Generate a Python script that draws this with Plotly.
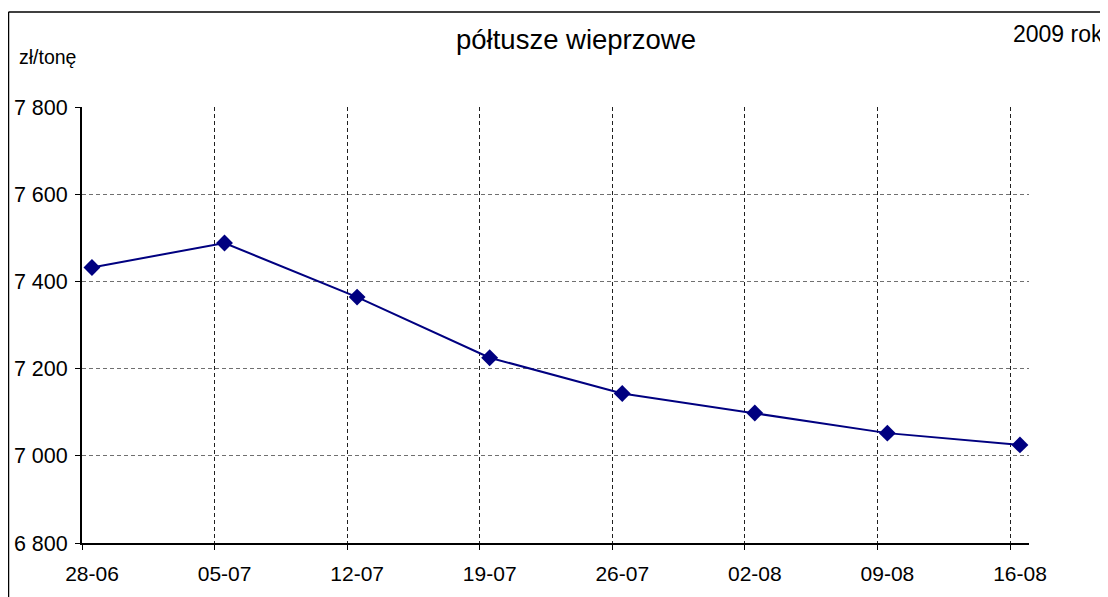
import plotly.graph_objects as go

# ---- data ----
dates = ["28-06", "05-07", "12-07", "19-07", "26-07", "02-08", "09-08", "16-08"]
prices = [7432, 7488, 7364, 7225, 7143, 7098, 7052, 7025]
y_ticks = [6800, 7000, 7200, 7400, 7600, 7800]
title_text = "półtusze wieprzowe"
unit_text = "zł/tonę"
year_text = "2009 rok"

# page has an 8px body margin; work in screen pixels and shift into figure coords
OFF = 8
W, H = 1108 - OFF, 597 - OFF
L, R, T, B = 82 - OFF, 1029 - OFF, 107 - OFF, 543 - OFF
point_offset = 0.075  # points sit slightly right of each week's gridline
x_pos = [i + point_offset for i in range(len(dates))]
x_max = (R - L) / ((1010 - 82) / 7)

font = "Liberation Sans, Arial, sans-serif"

fig = go.Figure()
fig.add_trace(go.Scatter(
    x=x_pos, y=prices, mode="lines+markers",
    line=dict(color="#000080", width=2),
    marker=dict(symbol="diamond", size=13, color="#000080"),
    showlegend=False, hoverinfo="skip",
))

fig.update_layout(
    width=W, height=H,
    margin=dict(l=L, r=W - R, t=T, b=H - B, autoexpand=False),
    paper_bgcolor="white", plot_bgcolor="white",
    separators=", ",
    font=dict(family=font, color="black"),
    xaxis=dict(
        range=[0, x_max], tickvals=list(range(len(dates))), ticktext=dates,
        ticklabelshift=10, showgrid=True, gridcolor="#202020", griddash="4px,3px",
        gridwidth=1, showline=True, linecolor="black", linewidth=2,
        ticks="outside", ticklen=5, tickcolor="black", tickwidth=1,
        tickfont=dict(size=21, family=font, color="black"), zeroline=False,
        ticklabelstandoff=6, automargin=False,
    ),
    yaxis=dict(
        range=[6800, 7800], tickvals=y_ticks, tickformat=",d",
        showgrid=True, gridcolor="#707070", griddash="4px,3px", gridwidth=1,
        showline=True, linecolor="black", linewidth=2,
        ticks="outside", ticklen=5, tickcolor="black", tickwidth=1,
        tickfont=dict(size=21.5, family=font, color="black"), zeroline=False,
        ticklabelstandoff=3, automargin=False,
    ),
)

def px_x(p):
    return (p - OFF - L) / (R - L)

def px_y(p):
    return (B - (p - OFF)) / (B - T)

fig.add_annotation(text=title_text, xref="paper", yref="paper",
                   x=px_x(576), y=px_y(39), xanchor="center", yanchor="middle",
                   showarrow=False, font=dict(size=27.5, family=font, color="black"))
fig.add_annotation(text=unit_text, xref="paper", yref="paper",
                   x=px_x(17), y=px_y(57), xanchor="left", yanchor="middle",
                   showarrow=False, font=dict(size=19.5, family=font, color="black"))
fig.add_annotation(text=year_text, xref="paper", yref="paper",
                   x=px_x(1105), y=px_y(34), xanchor="right", yanchor="middle",
                   showarrow=False, font=dict(size=23, family=font, color="black"))

# outer chart border (bottom edge is cut off in the reference)
border = dict(color="black", width=1.5)
fig.add_shape(type="line", xref="paper", yref="paper",
              x0=px_x(8.5), x1=px_x(8.5), y0=px_y(12), y1=px_y(610), line=border)
fig.add_shape(type="line", xref="paper", yref="paper",
              x0=px_x(1102), x1=px_x(1102), y0=px_y(12), y1=px_y(610), line=border)
fig.add_shape(type="line", xref="paper", yref="paper",
              x0=px_x(8.5), x1=px_x(1102), y0=px_y(12), y1=px_y(12), line=border)

fig.write_html("out.html")
